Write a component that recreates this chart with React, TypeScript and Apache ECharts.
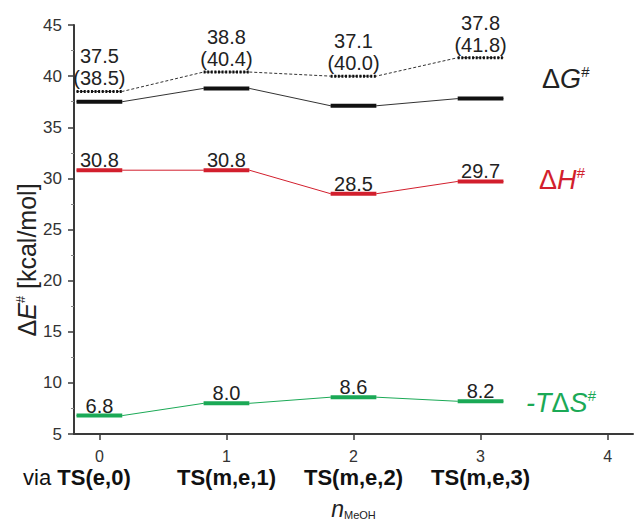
import React, { useEffect, useRef } from "react";
import * as echarts from "echarts";

// ---- data ----
const nMeOH = [0, 1, 2, 3];
const xTicks = [0, 1, 2, 3, 4];
const categoryPrefix = ["via ", "", "", ""];
const categoryNames = ["TS(e,0)", "TS(m,e,1)", "TS(m,e,2)", "TS(m,e,3)"];
const dG = [37.5, 38.8, 37.1, 37.8];
const dGalt = [38.5, 40.4, 40.0, 41.8];
const dH = [30.8, 30.8, 28.5, 29.7];
const mTdS = [6.8, 8.0, 8.6, 8.2];

const HALF = 0.18;
const FONT = '"Liberation Sans", Arial, Helvetica, sans-serif';
const RED = "#d21f2d";
const GREEN = "#1ba956";
const BLACK = "#111111";

function connector(values: number[], color: string, dashed: boolean) {
  const data: number[][] = [];
  nMeOH.forEach((x, i) => {
    data.push([x - HALF, values[i]]);
    data.push([x + HALF, values[i]]);
  });
  return {
    type: "line",
    data,
    symbol: "none",
    silent: true,
    z: 2,
    lineStyle: { color, width: 1, type: dashed ? [3, 2] : "solid" },
  };
}

function segments(
  values: number[],
  color: string,
  width: number,
  dash: number[] | null,
  labelFn: ((i: number) => string) | null,
  labelShift: number
) {
  return {
    type: "custom",
    data: nMeOH.map((x, i) => [x, values[i]]),
    z: 3,
    silent: true,
    renderItem: (params: any, api: any) => {
      const x = api.value(0);
      const v = api.value(1);
      const a = api.coord([x - HALF, v]);
      const b = api.coord([x + HALF, v]);
      const children: any[] = [
        {
          type: "line",
          shape: { x1: a[0], y1: a[1], x2: b[0], y2: b[1] },
          style: { stroke: color, lineWidth: width, lineDash: dash || undefined },
        },
      ];
      if (labelFn) {
        children.push({
          type: "text",
          x: (a[0] + b[0]) / 2,
          y: a[1] + labelShift,
          style: {
            text: labelFn(params.dataIndex),
            fill: "#222",
            fontSize: 20,
            fontFamily: FONT,
            lineHeight: 22,
            align: "center",
            verticalAlign: "bottom",
            textAlign: "center",
            textVerticalAlign: "bottom",
          },
        });
      }
      return { type: "group", children };
    },
  };
}

function rightLabel(rich: string, x: number, y: number, color: string) {
  return {
    type: "text",
    x,
    y,
    silent: true,
    style: {
      text: rich,
      fill: color,
      fontFamily: FONT,
      fontSize: 27,
      align: "left",
      verticalAlign: "middle",
      textAlign: "left",
      textVerticalAlign: "middle",
      rich: {
        r: { fontSize: 27, fontFamily: FONT, fill: color, color, lineHeight: 30 },
        i: { fontSize: 27, fontFamily: FONT, fontStyle: "italic", fill: color, color, lineHeight: 30 },
        s: {
          fontSize: 15,
          fontFamily: FONT,
          fontStyle: "italic",
          fill: color,
          color,
          verticalAlign: "top",
          lineHeight: 15,
        },
      },
    },
  };
}

export default function App() {
  const ref = useRef<HTMLDivElement>(null);
  useEffect(() => {
    document.body.style.margin = "0";
    const chart = echarts.init(ref.current!, null, { renderer: "svg" });
    const option: any = {
      animation: false,
      backgroundColor: "#ffffff",
      grid: {
        left: 74,
        right: 4,
        top: 25,
        bottom: 91,
        containLabel: false,
        outerBoundsMode: "none",
      },
      xAxis: {
        type: "value",
        min: -0.2,
        max: 4.2,
        splitLine: { show: false },
        axisLine: { show: true, onZero: false, lineStyle: { color: "#3a3a3a", width: 2 } },
        axisTick: {
          show: true,
          customValues: xTicks,
          length: 6,
          lineStyle: { color: "#3a3a3a", width: 1.5 },
        },
        axisLabel: {
          show: true,
          customValues: xTicks,
          margin: 12,
          formatter: (val: number) => {
            const i = Math.round(val);
            if (i < categoryNames.length) {
              const pre = categoryPrefix[i] ? `{v|${categoryPrefix[i]}}` : "";
              const sp = categoryPrefix[i] ? "{sp| }" : "";
              return `{n|${i}}\n${pre}{b|${categoryNames[i]}}${sp}`;
            }
            return `{n|${i}}`;
          },
          rich: {
            n: { fontSize: 16, lineHeight: 20, color: "#333", fontFamily: FONT },
            v: { fontSize: 22, lineHeight: 22, color: "#111", fontFamily: FONT },
            b: { fontSize: 22, lineHeight: 22, color: "#111", fontWeight: "bold", fontFamily: FONT },
            sp: { width: 45, fontSize: 22, lineHeight: 22 },
          },
        },
        name: "{i|n}{s|MeOH}",
        nameLocation: "middle",
        nameGap: 64,
        nameTextStyle: {
          rich: {
            i: { fontSize: 23, fontStyle: "italic", color: "#222", fontFamily: FONT, lineHeight: 22 },
            s: { fontSize: 11, color: "#222", fontFamily: FONT, verticalAlign: "bottom", lineHeight: 12 },
          },
        },
      },
      yAxis: {
        type: "value",
        min: 5,
        max: 45,
        interval: 5,
        splitLine: { show: false },
        axisLine: { show: true, onZero: false, lineStyle: { color: "#3a3a3a", width: 2 } },
        axisTick: { show: true, length: 6, lineStyle: { color: "#3a3a3a", width: 1.5 } },
        minorTick: { show: true, splitNumber: 2, length: 3, lineStyle: { color: "#888", width: 1 } },
        axisLabel: { fontSize: 17, color: "#333", fontFamily: FONT, margin: 12 },
      },
      graphic: [
        {
          type: "text",
          x: 27,
          y: 260,
          rotation: Math.PI / 2,
          silent: true,
          style: {
            text: "{d|Δ}{e|E}{s|#}{d| [kcal/mol]}",
            align: "center",
            verticalAlign: "middle",
            textAlign: "center",
            textVerticalAlign: "middle",
            fill: "#222",
            rich: {
              d: { fontSize: 25, fontFamily: FONT, fill: "#222", color: "#222", lineHeight: 26 },
              e: { fontSize: 25, fontFamily: FONT, fontStyle: "italic", fill: "#222", color: "#222", lineHeight: 26 },
              s: { fontSize: 13, fontFamily: FONT, fontStyle: "italic", fill: "#222", color: "#222", verticalAlign: "top", lineHeight: 13 },
            },
          },
        },
        rightLabel("{r|Δ}{i|G}{s|#}", 542, 79, "#222"),
        rightLabel("{r|Δ}{i|H}{s|#}", 539, 180, RED),
        rightLabel("{i|-T}{r|Δ}{i|S}{s|#}", 526, 403, GREEN),
      ],
      series: [
        connector(dGalt, "#333", true),
        connector(dG, "#333", false),
        connector(dH, RED, false),
        connector(mTdS, GREEN, false),
        segments(dGalt, BLACK, 3, [2, 1.6], (i) => `${dG[i].toFixed(1)}\n(${dGalt[i].toFixed(1)})`, -2),
        segments(dG, BLACK, 4, null, null, 0),
        segments(dH, RED, 4, null, (i) => dH[i].toFixed(1), 1),
        segments(mTdS, GREEN, 4, null, (i) => mTdS[i].toFixed(1), 1),
      ],
    };
    chart.setOption(option);
    return () => chart.dispose();
  }, []);
  return (
    <div
      ref={ref}
      style={{ position: "fixed", left: 0, top: 0, width: 637, height: 525, background: "#fff" }}
    />
  );
}
